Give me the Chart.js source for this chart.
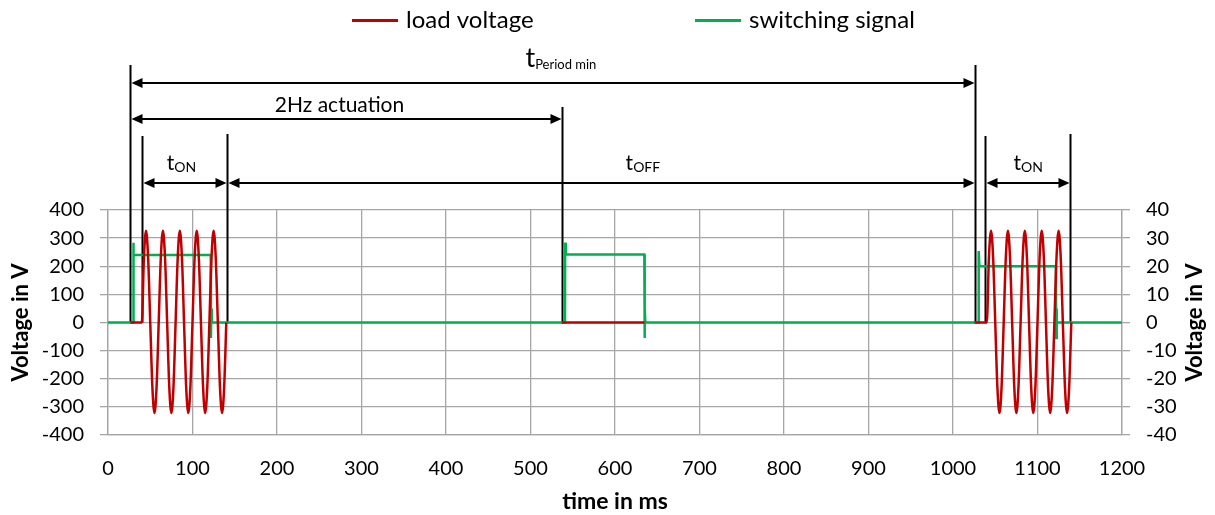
<!DOCTYPE html>
<html><head><meta charset="utf-8">
<script src="https://cdn.jsdelivr.net/npm/chart.js@4"></script>
<style>html,body{margin:0;padding:0;background:#fff}</style>
</head><body>
<canvas id="c" width="1215" height="515"></canvas>
<script>
// ---- data (time in ms, voltage in V) ----
const loadTime = [
  26.5, 40, 42.5, 45, 47.5, 50, 52.5, 55, 57.5, 60, 62.5, 65, 67.5, 70, 72.5, 75, 77.5,
  80, 82.5, 85, 87.5, 90, 92.5, 95, 97.5, 100, 102.5, 105, 107.5, 110, 112.5, 115, 117.5,
  120, 122.5, 125, 127.5, 130, 132.5, 135, 137.5, 140,
  300,
  537, 635,
  800,
  1025.5, 1040, 1042.5, 1045, 1047.5, 1050, 1052.5, 1055, 1057.5, 1060, 1062.5, 1065, 1067.5,
  1070, 1072.5, 1075, 1077.5, 1080, 1082.5, 1085, 1087.5, 1090, 1092.5, 1095, 1097.5,
  1100, 1102.5, 1105, 1107.5, 1110, 1112.5, 1115, 1117.5, 1120, 1122.5, 1125, 1127.5,
  1130, 1132.5, 1135, 1137.5, 1140
];
const loadVolt = [
  0, 0, 230, 326, 230, 0, -228, -322, -228, 0, 230, 326, 230, 0, -228, -322, -228,
  0, 230, 326, 230, 0, -228, -322, -228, 0, 230, 326, 230, 0, -228, -322, -228,
  0, 230, 326, 230, 0, -228, -322, -228, 0,
  null,
  0, 0,
  null,
  0, 0, 230, 326, 230, 0, -228, -322, -228, 0, 230, 326, 230,
  0, -228, -322, -228, 0, 230, 326, 230, 0, -228, -322, -228,
  0, 230, 326, 230, 0, -228, -322, -228, 0, 230, 326, 230,
  0, -228, -322, -228, 0
];
const switchTime = [0, 29.6, 29.8, 30.6, 121.6, 121.8, 122.3, 122.8,
  540.8, 541, 541.8, 634.7, 634.9, 635.4, 635.9,
  1030.2, 1030.4, 1031.2, 1121.8, 1122, 1122.5, 1123, 1200];
const switchVolt = [0, 0, 28.4, 24, 24, -5.5, 5, 0,
  0, 28.4, 24.2, 24.2, -5.5, 5, 0,
  0, 25.4, 20, 20, -5.5, 5, 0, 0];
const seriesNames = ['load voltage', 'switching signal'];
const xTicks = {min: 0, max: 1200, step: 100};
const yLeftTicks = {min: -400, max: 400, step: 100};
const yRightTicks = {min: -40, max: 40, step: 10};
// marker times (ms) of the annotation lines
const markerTimes = [26.5, 40, 140.5, 537, 1025.5, 1038, 1139];
const spans = [
  {from: 26.5, to: 1025.5, main: 't', sub: 'Period min'},
  {from: 26.5, to: 537, main: '2Hz actuation', sub: ''},
  {from: 40, to: 140.5, main: 't', sub: 'ON'},
  {from: 140.5, to: 1025.5, main: 't', sub: 'OFF'},
  {from: 1038, to: 1139, main: 't', sub: 'ON'}
];

// ---- styling ----
const FONT = 'Lato, "Open Sans", sans-serif';
const RED = '#C00000', GREEN = '#00B050', GRID = '#a6a6a6';
const markerTopOffset = [-145, -74, -76, -103, -145, -74, -76];
const spanStyle = [
  {row: -127, textX: 536, textY: -143, mainSize: 27, subSize: 13},
  {row: -91, textX: 274, textY: -98, mainSize: 21, subSize: 0},
  {row: -27, textX: 87, textY: -40, mainSize: 21, subSize: 14},
  {row: -27, textX: 633, textY: -40, mainSize: 21, subSize: 14},
  {row: -27, textX: 1089, textY: -40, mainSize: 21, subSize: 14}
];

const loadData = loadTime.map((t, i) => ({x: t, y: loadVolt[i]}));
const switchData = switchTime.map((t, i) => ({x: t, y: switchVolt[i]}));

function arrowHead(ctx, tipX, y, dir) {
  ctx.beginPath();
  ctx.moveTo(tipX, y);
  ctx.lineTo(tipX + dir * 11, y - 5);
  ctx.lineTo(tipX + dir * 11, y + 5);
  ctx.closePath();
  ctx.fill();
}

const annot = {
  id: 'annot',
  beforeDatasetsDraw(chart) {
    const {ctx, chartArea: ca, scales: {x, y}} = chart;
    const y0 = y.getPixelForValue(0);
    ctx.save();
    ctx.strokeStyle = '#000';
    ctx.lineWidth = 2;
    markerTimes.forEach((t, i) => {
      const px = Math.round(x.getPixelForValue(t)) + 0.5;
      ctx.beginPath();
      ctx.moveTo(px, ca.top + markerTopOffset[i]);
      ctx.lineTo(px, y0);
      ctx.stroke();
    });
    ctx.restore();
  },
  afterDraw(chart) {
    const {ctx, chartArea: ca, scales: {x}} = chart;
    ctx.save();
    ctx.strokeStyle = '#000';
    ctx.fillStyle = '#000';
    ctx.lineWidth = 2;
    spans.forEach((s, i) => {
      const st = spanStyle[i];
      const x1 = Math.round(x.getPixelForValue(s.from)) + 1.5;
      const x2 = Math.round(x.getPixelForValue(s.to)) - 0.5;
      const yy = ca.top + st.row;
      ctx.beginPath();
      ctx.moveTo(x1 + 4, yy);
      ctx.lineTo(x2 - 4, yy);
      ctx.stroke();
      arrowHead(ctx, x1, yy, 1);
      arrowHead(ctx, x2, yy, -1);
      // label
      const tx = x.getPixelForValue(st.textX);
      const ty = ca.top + st.textY;
      ctx.textBaseline = 'alphabetic';
      ctx.textAlign = 'left';
      ctx.font = st.mainSize + 'px ' + FONT;
      const w1 = ctx.measureText(s.main).width;
      let w2 = 0;
      if (s.sub) {
        ctx.font = st.subSize + 'px ' + FONT;
        w2 = ctx.measureText(s.sub).width;
      }
      const start = tx - (w1 + w2) / 2;
      ctx.font = st.mainSize + 'px ' + FONT;
      ctx.fillText(s.main, start, ty);
      if (s.sub) {
        ctx.font = st.subSize + 'px ' + FONT;
        ctx.fillText(s.sub, start + w1, ty + 2);
      }
    });
    // right axis title (reads bottom to top)
    ctx.save();
    ctx.translate(1195, (ca.top + ca.bottom) / 2);
    ctx.rotate(-Math.PI / 2);
    ctx.font = 'bold 22px ' + FONT;
    ctx.textAlign = 'center';
    ctx.textBaseline = 'middle';
    ctx.fillText('Voltage in V', 0, 0);
    ctx.restore();
    // legend
    const items = [
      {name: seriesNames[0], color: RED, x0: 352},
      {name: seriesNames[1], color: GREEN, x0: 695}
    ];
    ctx.font = '24px ' + FONT;
    ctx.textBaseline = 'middle';
    ctx.textAlign = 'left';
    items.forEach(it => {
      ctx.strokeStyle = it.color;
      ctx.lineWidth = 3;
      ctx.beginPath();
      ctx.moveTo(it.x0, 20.5);
      ctx.lineTo(it.x0 + 46, 20.5);
      ctx.stroke();
      ctx.fillStyle = '#000';
      ctx.fillText(it.name, it.x0 + 54, 20);
    });
    ctx.restore();
  }
};

const plainNum = v => String(v);

new Chart(document.getElementById('c'), {
  type: 'line',
  data: {
    datasets: [
      {label: seriesNames[0], data: loadData, borderColor: RED, backgroundColor: RED,
       borderWidth: 2.5, pointRadius: 0, yAxisID: 'y', cubicInterpolationMode: 'monotone', spanGaps: false},
      {label: seriesNames[1], data: switchData, borderColor: GREEN, backgroundColor: GREEN,
       borderWidth: 2.5, pointRadius: 0, yAxisID: 'y2', tension: 0}
    ]
  },
  options: {
    responsive: false,
    animation: false,
    devicePixelRatio: 1,
    layout: {padding: {top: 210, left: 0, right: 0, bottom: 0}},
    plugins: {legend: {display: false}, tooltip: {enabled: false}},
    scales: {
      x: {
        type: 'linear', min: xTicks.min, max: xTicks.max,
        ticks: {stepSize: xTicks.step, padding: 22, color: '#000', font: {family: FONT, size: 20}, maxRotation: 0, callback: plainNum},
        grid: {color: GRID, lineWidth: 1.3, drawTicks: false},
        border: {color: GRID, width: 1.3},
        title: {display: true, text: 'time in ms', color: '#000', font: {family: FONT, size: 23, weight: 'bold'}, padding: {top: 0, bottom: 0}},
        afterFit: s => { s.height = 80; }
      },
      y: {
        position: 'left', min: yLeftTicks.min, max: yLeftTicks.max,
        ticks: {stepSize: yLeftTicks.step, padding: 16, color: '#000', font: {family: FONT, size: 20}, callback: plainNum},
        grid: {color: GRID, lineWidth: 1.3, tickLength: 8},
        border: {color: GRID, width: 1.3},
        title: {display: true, text: 'Voltage in V', color: '#000', font: {family: FONT, size: 22, weight: 'bold'}, padding: {top: 8, bottom: 0}},
        afterFit: s => { s.width = 108; }
      },
      y2: {
        position: 'right', min: yRightTicks.min, max: yRightTicks.max,
        ticks: {stepSize: yRightTicks.step, padding: 16, color: '#000', font: {family: FONT, size: 20}, callback: plainNum},
        grid: {color: GRID, lineWidth: 1.3, tickLength: 8, drawOnChartArea: false},
        border: {color: GRID, width: 1.3},
        afterFit: s => { s.width = 93; }
      }
    }
  },
  plugins: [annot]
});
</script>
</body></html>
